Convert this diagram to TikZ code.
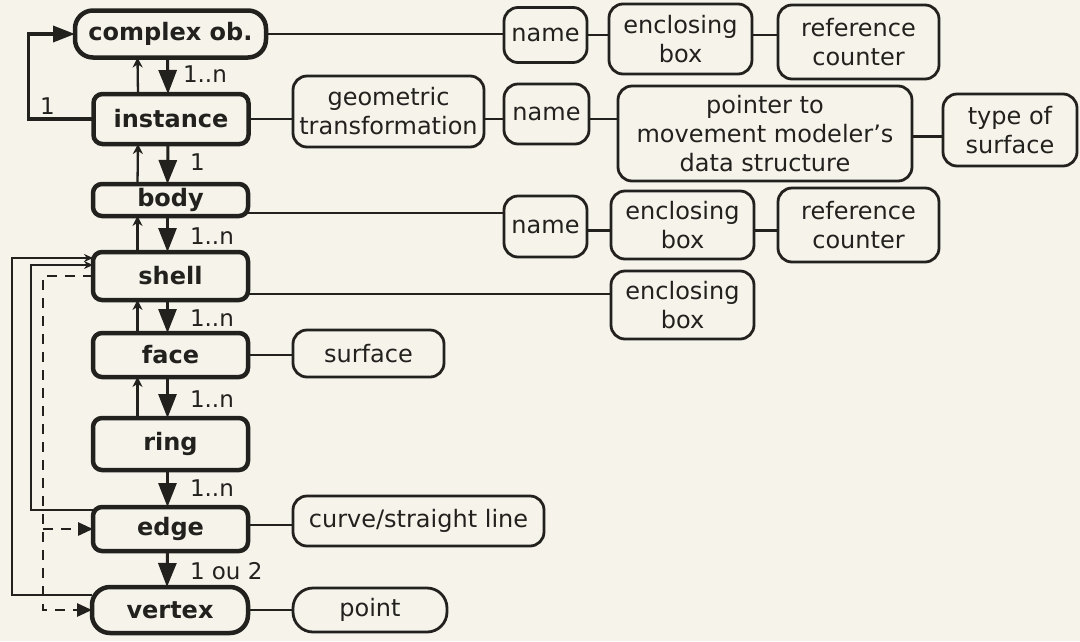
\documentclass[tikz,border=0pt]{standalone}
\usepackage{fontspec}
\setmainfont{DejaVu Sans}
\usetikzlibrary{arrows.meta,calc}
\definecolor{paper}{RGB}{245,243,234}
\definecolor{ink}{RGB}{35,33,30}
\begin{document}
\begin{tikzpicture}[x=1pt,y=-1pt,
  every node/.style={inner sep=0pt, outer sep=0pt, text=ink},
  mainbox/.style={draw=ink, line width=4.5pt, rounded corners=9pt, font=\fontsize{24}{28}\selectfont\bfseries},
  pillbox/.style={mainbox, rounded corners=18pt},
  subbox/.style={draw=ink, line width=2.8pt, rounded corners=14pt, align=center, font=\fontsize{24}{29}\selectfont},
  link/.style={draw=ink, line width=2.5pt},
  uparr/.style={draw=ink, line width=2.3pt, -{Stealth[length=10pt,width=10pt]}},
  downarr/.style={draw=ink, line width=3pt, -{Triangle[length=24pt,width=18pt]}},
  loopline/.style={draw=ink, line width=3.5pt, -{Triangle[length=22pt,width=16pt]}},
  backline/.style={draw=ink, line width=2.3pt, -{Stealth[length=9pt,width=8pt]}},
  dashline/.style={draw=ink, line width=2.8pt, dash pattern=on 10pt off 8pt, -{Triangle[length=15pt,width=13pt]}},
  card/.style={font=\fontsize{23}{26}\selectfont, anchor=west},
]
\fill[paper] (0,0) rectangle (1080,641);
\useasboundingbox (0,0) rectangle (1080,641);

% main column
\node[pillbox, minimum width=191pt, minimum height=47pt] (cob) at (170.5,34) {complex ob.};
\node[mainbox, minimum width=155pt, minimum height=50pt] (inst) at (171,119) {instance};
\node[mainbox, minimum width=155pt, minimum height=32pt] (body) at (170.5,200) {body};
\node[mainbox, minimum width=155pt, minimum height=48pt] (shell) at (170.5,276) {shell};
\node[mainbox, minimum width=155pt, minimum height=44pt] (face) at (170.5,355) {face};
\node[mainbox, minimum width=155pt, minimum height=52pt] (ring) at (170.5,444) {ring};
\node[mainbox, minimum width=155pt, minimum height=44pt] (edge) at (170.5,529) {edge};
\node[pillbox, minimum width=156pt, minimum height=46pt] (vertex) at (170,610) {vertex};

% right boxes
\node[subbox, minimum width=83pt, minimum height=55pt] (name1) at (545.5,35) {name};
\node[subbox, minimum width=143pt, minimum height=70pt] (encl1) at (680.5,39) {enclosing\\box};
\node[subbox, minimum width=161pt, minimum height=74pt] (ref1) at (858.5,42) {reference\\counter};
\node[subbox, minimum width=191pt, minimum height=71pt] (geo) at (388.5,111.5) {geometric\\transformation};
\node[subbox, minimum width=85pt, minimum height=60pt] (name2) at (546.5,114) {name};
\node[subbox, minimum width=294pt, minimum height=95pt] (ptr) at (765,133.5) {pointer to\\movement modeler's\\data structure};
\node[subbox, minimum width=134pt, minimum height=72pt] (type) at (1010,130) {type of\\surface};
\node[subbox, minimum width=83pt, minimum height=61pt] (name3) at (545.5,226.5) {name};
\node[subbox, minimum width=143pt, minimum height=68pt] (encl3) at (682.5,225) {enclosing\\box};
\node[subbox, minimum width=161pt, minimum height=74pt] (ref3) at (858.5,225) {reference\\counter};
\node[subbox, minimum width=143pt, minimum height=68pt] (encl4) at (682.5,305) {enclosing\\box};
\node[subbox, minimum width=151pt, minimum height=47pt] (surf) at (368.5,353.5) {surface};
\node[subbox, minimum width=251pt, minimum height=50pt] (curve) at (418.5,521) {curve/straight line};
\node[subbox, rounded corners=20pt, minimum width=154pt, minimum height=44pt] (point) at (370,610) {point};

% horizontal links
\draw[link] (cob.east) -- (cob.east -| name1.west);
\draw[link] (name1.east) -- (name1.east -| encl1.west);
\draw[link] (name1.east -| encl1.east) -- (name1.east -| ref1.west);
\draw[link] (inst.east) -- (inst.east -| geo.west);
\draw[link] (inst.east -| geo.east) -- (inst.east -| name2.west);
\draw[link] (inst.east -| name2.east) -- (inst.east -| ptr.west);
\draw[link] ([yshift=-3pt]ptr.east) -- ([yshift=-3pt]ptr.east -| type.west);
\draw[link] ([yshift=-13pt]body.east) -- ([yshift=-13pt]body.east -| name3.west);
\draw[link] ([yshift=-4pt]name3.east) -- ([yshift=-4pt]name3.east -| encl3.west);
\draw[link] ([yshift=-4pt]name3.east -| encl3.east) -- ([yshift=-4pt]name3.east -| ref3.west);
\draw[link] ([yshift=-18pt]shell.east) -- ([yshift=-18pt]shell.east -| encl4.west);
\draw[link] (face.east) -- (face.east -| surf.west);
\draw[link] ([yshift=4pt]edge.east) -- ([yshift=4pt]edge.east -| curve.west);
\draw[link] (vertex.east) -- (vertex.east -| point.west);

% vertical arrows
\foreach \u/\l in {cob/inst, inst/body, body/shell, shell/face, face/ring} {
  \draw[uparr] ([xshift=-33pt]\l.north) -- ([xshift=-33pt]\u.south);
}
\foreach \u/\l in {cob/inst, inst/body, body/shell, shell/face, face/ring, ring/edge, edge/vertex} {
  \draw[downarr] ([xshift=-3pt]\u.south) -- ([xshift=-3pt]\l.north);
}

% cardinalities
\node[card] (c1) at (183,74) {1..n};
\node[card] (c2) at (190,162) {1};
\node[card] (c3) at (190,236) {1..n};
\node[card] (c4) at (190,318) {1..n};
\node[card] (c5) at (190,399) {1..n};
\node[card] (c6) at (190,488) {1..n};
\node[card] (c7) at (190,571) {1 ou 2};

% loop instance -> complex ob.
\draw[loopline] (inst.west) -- ++(-65,0) |- (cob.west);
\node[card] (c0) at (40,106) {1};

% back links to shell
\draw[backline] ([yshift=15pt]vertex.west) -- ++(-80,0) |- ([yshift=18pt]shell.west);
\draw[backline] ([yshift=19pt]edge.west) -- ++(-62,0) |- ([yshift=11pt]shell.west);

% dashed links
\coordinate (dk) at ($(shell.west)+(-50,0)$);
\draw[dashline] (shell.west) -- (dk) |- (vertex.west);
\draw[dashline] (dk |- edge.west) -- (edge.west);
\end{tikzpicture}
\end{document}
